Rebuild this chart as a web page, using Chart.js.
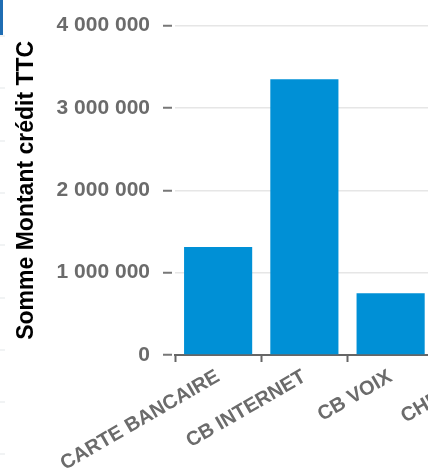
<!DOCTYPE html>
<html>
<head>
<meta charset="utf-8">
<script src="https://cdn.jsdelivr.net/npm/chart.js@4.4.1/dist/chart.umd.min.js"></script>
<style>
  html, body { margin: 0; padding: 0; background: #fff; overflow: hidden; }
  #wrap { position: absolute; left: 0; top: 0; width: 428px; height: 471px; overflow: hidden; }
  #box { position: absolute; left: 0; top: 0; width: 530px; height: 471px; }
  #side { position: absolute; left: 0; top: 0; width: 5px; height: 471px;
    background: repeating-linear-gradient(to bottom, #e3e7ea 0 1px, transparent 1px 52.3px);
    background-position: 0 35.5px; }
  #side-top { position: absolute; left: 0; top: 0; width: 3px; height: 35px; background: #1f6db3; }
</style>
</head>
<body>
<div id="wrap">
  <div id="box"><canvas id="chart"></canvas></div>
  <div id="side"></div>
  <div id="side-top"></div>
</div>
<script>
const categories = ['CARTE BANCAIRE', 'CB INTERNET', 'CB VOIX', 'CHEQUE'];
const montants = [1310000, 3350000, 750000, 480000];
const yTicks = [0, 1000000, 2000000, 3000000, 4000000];

const fontFamily = '"Liberation Sans", Arial, sans-serif';

function formatNombre(v) {
  return String(v).replace(/\B(?=(\d{3})+(?!\d))/g, ' ');
}

const ctx = document.getElementById('chart').getContext('2d');

new Chart(ctx, {
  type: 'bar',
  data: {
    labels: categories,
    datasets: [{
      label: 'Somme Montant crédit TTC',
      data: montants,
      backgroundColor: '#0090d6',
      barPercentage: 0.79,
      categoryPercentage: 1
    }]
  },
  options: {
    responsive: true,
    maintainAspectRatio: false,
    animation: false,
    layout: { padding: { top: 22, right: 10, left: 0, bottom: 0 } },
    plugins: {
      legend: { display: false },
      tooltip: { enabled: false }
    },
    scales: {
      x: {
        offset: true,
        grid: {
          display: true,
          drawOnChartArea: false,
          drawTicks: true,
          tickLength: 7,
          tickColor: '#666',
          tickWidth: 2
        },
        border: { display: true, color: '#666', width: 2 },
        ticks: {
          autoSkip: false,
          minRotation: 30,
          maxRotation: 30,
          color: '#6b6b6b',
          font: { family: fontFamily, size: 20, weight: 'bold' }
        },
        afterFit: scale => { scale.height = 116; }
      },
      y: {
        min: 0,
        max: 4000000,
        afterBuildTicks: scale => { scale.ticks = yTicks.map(v => ({ value: v })); },
        grid: {
          color: '#e6e6e6',
          lineWidth: 1.5,
          tickLength: 12,
          tickColor: '#777',
          tickWidth: 2,
          tickBorderDash: [9, 3]
        },
        border: { display: false },
        ticks: {
          padding: 13,
          color: '#6b6b6b',
          font: { family: fontFamily, size: 21, weight: 'bold' },
          callback: v => formatNombre(v)
        },
        title: {
          display: true,
          text: 'Somme Montant crédit TTC',
          color: '#000',
          font: { family: fontFamily, size: 23, weight: 'bold' },
          padding: { top: 13, bottom: 0 }
        },
        afterFit: scale => { scale.width = 175; }
      }
    }
  }
});
</script>
</body>
</html>
